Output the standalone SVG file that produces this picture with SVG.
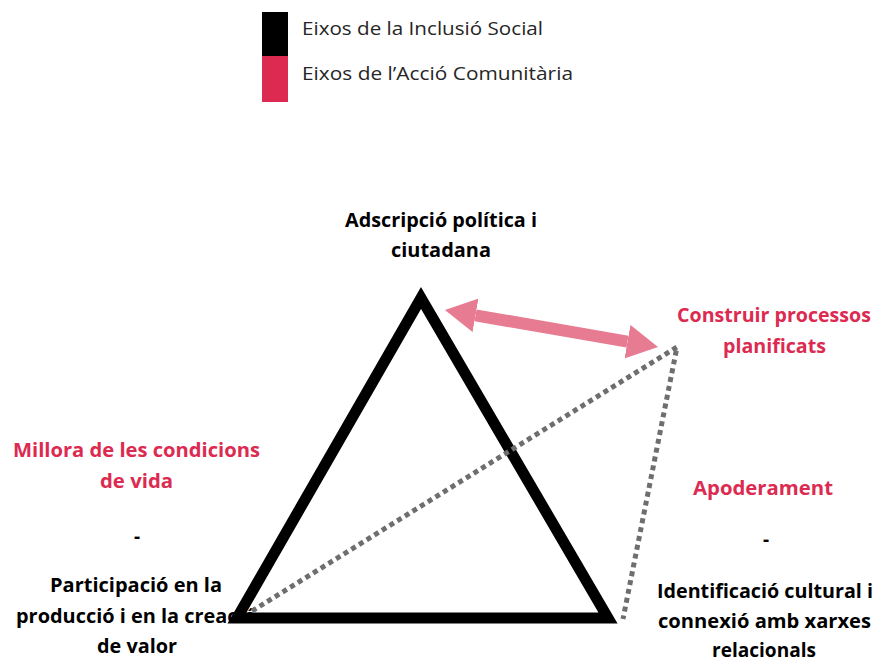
<svg xmlns="http://www.w3.org/2000/svg" width="875" height="662" viewBox="0 0 875 662">
<style>
.bk{font-family:"Open Sans","Noto Sans","Liberation Sans",sans-serif;font-weight:bold;font-size:19px;fill:#000}
.rd{font-family:"Open Sans","Noto Sans","Liberation Sans",sans-serif;font-weight:bold;font-size:19px;fill:#dc2a50}
.lg{font-family:"Open Sans","Noto Sans","Liberation Sans",sans-serif;font-size:19px;fill:#262626}
.dot{fill:none;stroke:#6e6e6e;stroke-width:5;stroke-dasharray:5 4}
</style>
<defs>
<marker id="ah" markerUnits="userSpaceOnUse" markerWidth="31" markerHeight="34" viewBox="0 0 31 34" refX="0" refY="17" orient="auto-start-reverse">
<path d="M0,0 L31,17 L0,34 z" fill="#e67b92"/>
</marker>
</defs>
<rect width="875" height="662" fill="#fff"/>
<g id="legend">
<rect x="262" y="12" width="26" height="44" fill="#000"/>
<rect x="262" y="56" width="26" height="46" fill="#dc2a50"/>
<text class="lg" x="302" y="35" textLength="241" lengthAdjust="spacingAndGlyphs">Eixos de la Inclusió Social</text>
<text class="lg" x="302" y="80" textLength="271" lengthAdjust="spacingAndGlyphs">Eixos de l’Acció Comunitària</text>
</g>
<g id="label-top">
<text class="bk" x="345" y="227" textLength="192" lengthAdjust="spacingAndGlyphs">Adscripció política i</text>
<text class="bk" x="391" y="257" textLength="100" lengthAdjust="spacingAndGlyphs">ciutadana</text>
</g>
<g id="label-construir">
<text class="rd" x="677" y="322" textLength="194" lengthAdjust="spacingAndGlyphs">Construir processos</text>
<text class="rd" x="723" y="353" textLength="103" lengthAdjust="spacingAndGlyphs">planificats</text>
</g>
<g id="label-left">
<text class="rd" x="13" y="457" textLength="247" lengthAdjust="spacingAndGlyphs">Millora de les condicions</text>
<text class="rd" x="100" y="488" textLength="73" lengthAdjust="spacingAndGlyphs">de vida</text>
<text class="bk" x="137" y="543" text-anchor="middle">-</text>
<text class="bk" x="50" y="592" textLength="172" lengthAdjust="spacingAndGlyphs">Participació en la</text>
<text class="bk" x="16" y="623" textLength="240" lengthAdjust="spacingAndGlyphs">producció i en la creació</text>
<text class="bk" x="97" y="653" textLength="80" lengthAdjust="spacingAndGlyphs">de valor</text>
</g>
<g id="label-right">
<text class="rd" x="693" y="495" textLength="140" lengthAdjust="spacingAndGlyphs">Apoderament</text>
<text class="bk" x="766" y="546" text-anchor="middle">-</text>
<text class="bk" x="657" y="598" textLength="216" lengthAdjust="spacingAndGlyphs">Identificació cultural i</text>
<text class="bk" x="658" y="628" textLength="213" lengthAdjust="spacingAndGlyphs">connexió amb xarxes</text>
<text class="bk" x="712" y="657" textLength="104" lengthAdjust="spacingAndGlyphs">relacionals</text>
</g>
<g id="triangle">
<path d="M421,298 L237,618 L608,618 Z" fill="none" stroke="#000" stroke-width="11" stroke-linejoin="miter" stroke-miterlimit="10"/>
</g>
<g id="connectors">
<path class="dot" d="M252,611 L677,347 L623,619"/>
<path d="M475.5,315.3 L627.5,341.7" stroke="#e67b92" stroke-width="12" fill="none" marker-start="url(#ah)" marker-end="url(#ah)"/>
</g>
</svg>
